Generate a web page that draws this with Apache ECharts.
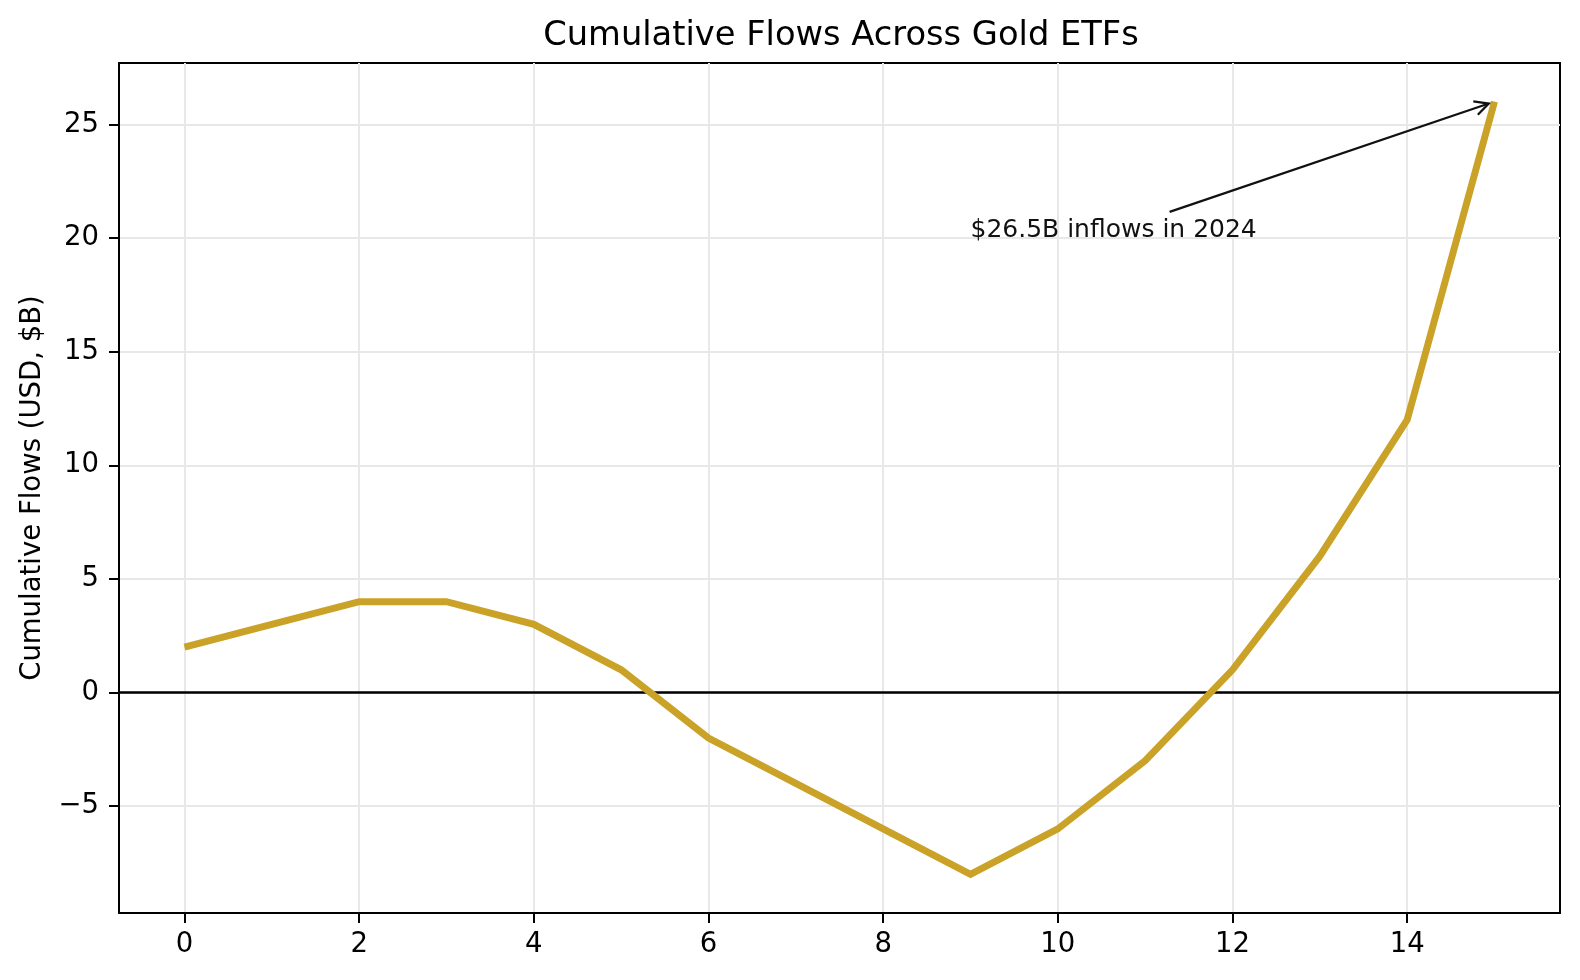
<!DOCTYPE html>
<html>
<head>
<meta charset="utf-8">
<script src="https://cdn.jsdelivr.net/npm/echarts@6/dist/echarts.min.js"></script>
<style>
html,body{margin:0;padding:0;background:#fff;}
#chart{width:1580px;height:980px;}
</style>
</head>
<body>
<div id="chart"></div>
<script>
// ---- data ----
const xValues = [0, 1, 2, 3, 4, 5, 6, 7, 8, 9, 10, 11, 12, 13, 14, 15];
const flows = [2, 3, 4, 4, 3, 1, -2, -4, -6, -8, -6, -3, 1, 6, 12, 26];
const xTicks = [0, 2, 4, 6, 8, 10, 12, 14];
const yTicks = [-5, 0, 5, 10, 15, 20, 25];
const titleText = 'Cumulative Flows Across Gold ETFs';
const yAxisName = 'Cumulative Flows (USD, $B)';
const annotationText = '$26.5B inflows in 2024';
const annotationTextAt = [9, 20];
const annotationArrowFrom = [11.28, 21.15];
const annotationArrowTo = [15, 26];

const FONT = 'DejaVu Sans';
const chart = echarts.init(document.getElementById('chart'), null, {renderer: 'canvas'});

const fmtMinus = v => (v < 0 ? '\u2212' + Math.abs(v) : String(v));

const option = {
  animation: false,
  backgroundColor: '#ffffff',
  title: {
    text: titleText,
    left: 836,
    textAlign: 'center',
    top: 14,
    textStyle: {fontFamily: FONT, fontSize: 33.7, fontWeight: 'normal', color: '#000'}
  },
  grid: {
    left: 119, right: 20, top: 63, bottom: 67,
    show: true, borderColor: '#000', borderWidth: 2, backgroundColor: 'transparent'
  },
  xAxis: {
    type: 'value', min: -0.75, max: 15.75,
    axisLine: {show: true, onZero: false, lineStyle: {color: '#000', width: 2}},
    axisTick: {show: true, inside: false, length: 10, lineStyle: {color: '#000', width: 2}, customValues: xTicks},
    axisLabel: {show: true, margin: 18, fontFamily: FONT, fontSize: 27.5, color: '#000', customValues: xTicks, formatter: fmtMinus},
    splitLine: {show: true, lineStyle: {color: '#e8e8e8', width: 2}}
  },
  yAxis: {
    type: 'value', min: -9.7, max: 27.7,
    name: yAxisName, nameLocation: 'middle', nameGap: 72, nameRotate: 90,
    nameTextStyle: {fontFamily: FONT, fontSize: 27.5, color: '#000'},
    axisLine: {show: true, onZero: false, lineStyle: {color: '#000', width: 2}},
    axisTick: {show: true, inside: false, length: 10, lineStyle: {color: '#000', width: 2}, customValues: yTicks},
    axisLabel: {show: true, margin: 20, fontFamily: FONT, fontSize: 27.5, color: '#000', customValues: yTicks, formatter: fmtMinus},
    splitLine: {show: true, lineStyle: {color: '#e8e8e8', width: 2}}
  },
  series: [{
    type: 'line',
    data: xValues.map((x, i) => [x, flows[i]]),
    showSymbol: false,
    symbol: 'none',
    lineStyle: {color: '#C9A227', width: 7, cap: 'butt', join: 'miter'},
    z: 5,
    markLine: {
      silent: true,
      symbol: ['none', 'none'],
      label: {show: false},
      lineStyle: {color: '#000', width: 2.5, type: 'solid'},
      data: [{yAxis: 0}],
      z: 4
    }
  }]
};
chart.setOption(option);

function drawAnnotation() {
  const p0 = chart.convertToPixel({gridIndex: 0}, annotationArrowFrom);
  const tgt = chart.convertToPixel({gridIndex: 0}, annotationArrowTo);
  const tp = chart.convertToPixel({gridIndex: 0}, annotationTextAt);
  const dx = tgt[0] - p0[0], dy = tgt[1] - p0[1];
  const len = Math.sqrt(dx * dx + dy * dy);
  const ux = dx / len, uy = dy / len;
  const shrink = 6;
  const p1 = [tgt[0] - ux * shrink, tgt[1] - uy * shrink];
  const hl = 14, hw = 7;
  const bx = p1[0] - ux * hl, by = p1[1] - uy * hl;
  const nx = -uy, ny = ux;
  chart.setOption({
    graphic: [
      {type: 'line', z: 10, shape: {x1: p0[0], y1: p0[1], x2: p1[0], y2: p1[1]},
       style: {stroke: '#111', lineWidth: 2.2}},
      {type: 'polyline', z: 10, shape: {points: [[bx + nx * hw, by + ny * hw], p1, [bx - nx * hw, by - ny * hw]]},
       style: {stroke: '#111', lineWidth: 2.2, fill: null}},
      {type: 'text', z: 10, x: tp[0], y: tp[1] + 5,
       style: {text: annotationText, fontFamily: FONT, fontSize: 25, fill: '#111', textAlign: 'left', textVerticalAlign: 'bottom'}}
    ]
  });
}
drawAnnotation();
</script>
</body>
</html>
